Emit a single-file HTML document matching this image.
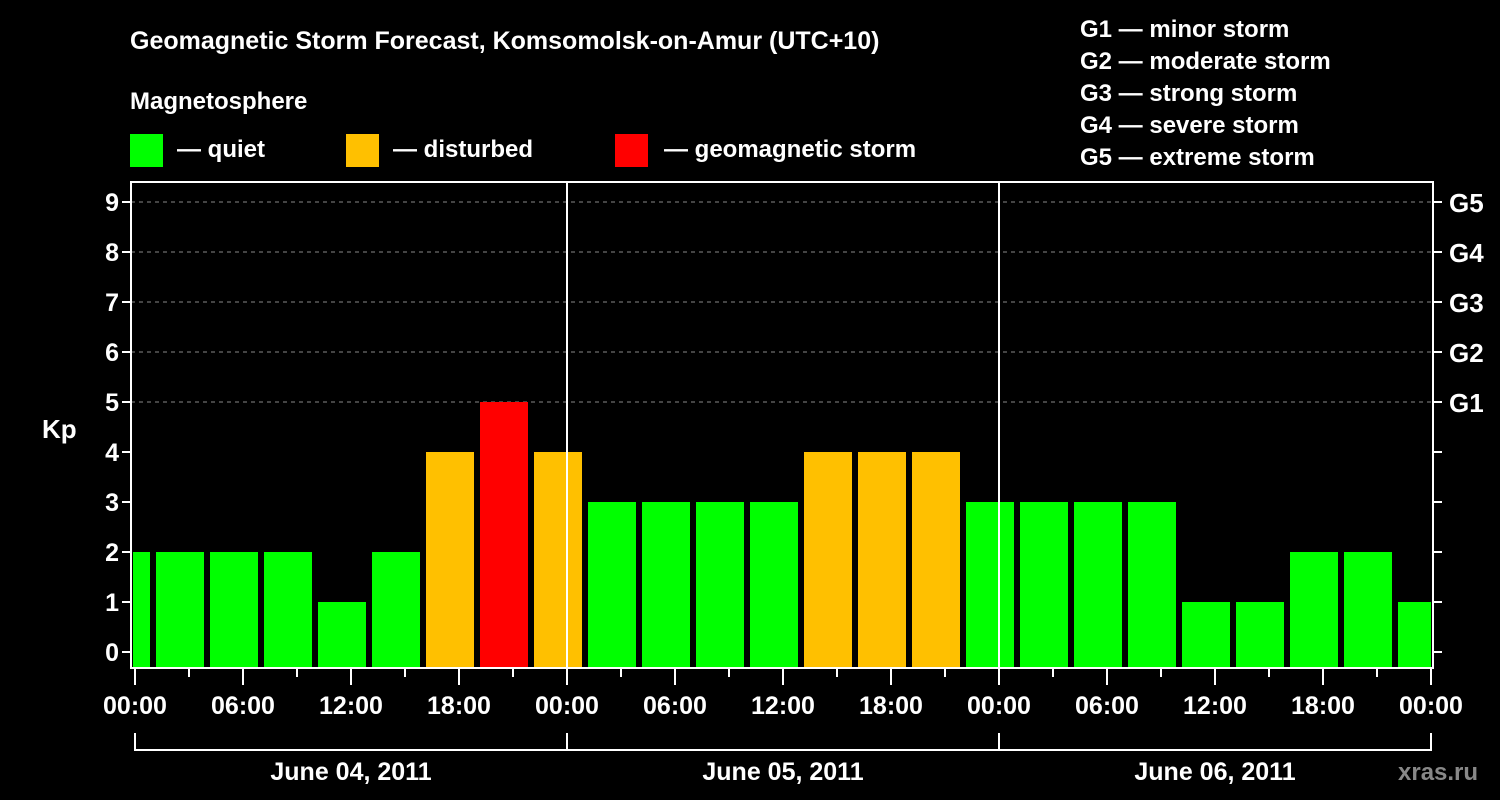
<!DOCTYPE html>
<html><head><meta charset="utf-8"><style>
html,body{margin:0;padding:0;background:#000;}
svg{display:block;font-family:"Liberation Sans",sans-serif;font-weight:bold;}
</style></head><body>
<svg id="chart" width="1500" height="800" viewBox="0 0 1500 800">
<rect width="1500" height="800" fill="#000"/>
<text x="130" y="49" fill="#fff" font-size="25">Geomagnetic Storm Forecast, Komsomolsk-on-Amur (UTC+10)</text>
<text x="130" y="109" fill="#fff" font-size="24">Magnetosphere</text>
<g><rect x="130" y="134" width="33" height="33" fill="#00ff00"/><text x="177" y="157" fill="#fff" font-size="24">— quiet</text></g>
<g><rect x="346" y="134" width="33" height="33" fill="#ffc000"/><text x="393" y="157" fill="#fff" font-size="24">— disturbed</text></g>
<g><rect x="615" y="134" width="33" height="33" fill="#ff0000"/><text x="664" y="157" fill="#fff" font-size="24">— geomagnetic storm</text></g>
<g fill="#fff" font-size="24">
<text x="1080" y="37">G1 — minor storm</text>
<text x="1080" y="69">G2 — moderate storm</text>
<text x="1080" y="101">G3 — strong storm</text>
<text x="1080" y="133">G4 — severe storm</text>
<text x="1080" y="165">G5 — extreme storm</text>
</g>
<text x="42" y="438" fill="#fff" font-size="26">Kp</text>
<text x="1398" y="780" fill="#888" font-size="24">xras.ru</text>
<g id="plot"></g>
</svg>
<script>
const kpValues=[2,2,2,2,1,2,4,5,4,3,3,3,3,4,4,4,3,3,3,3,1,1,2,2,1];
const yTicks=[0,1,2,3,4,5,6,7,8,9];
const gLabels=["G1","G2","G3","G4","G5"];
const hourLabels=["00:00","06:00","12:00","18:00"];
const dayLabels=["June 04, 2011","June 05, 2011","June 06, 2011"];
const NS="http://www.w3.org/2000/svg";
const L=131,R=1433,T=182,B=668,X0=135,PXH=18;
const xs=h=>X0+h*PXH;
const ys=v=>652-v*50;
const g=document.getElementById('plot');
function mk(t,a,p){const e=document.createElementNS(NS,t);for(const k in a)e.setAttribute(k,a[k]);(p||g).appendChild(e);return e;}
const clip=mk('clipPath',{id:'pc'});mk('rect',{x:L+2,y:T,width:R-L-4,height:B-T},clip);
// grid
for(let v=5;v<=9;v++){const ln=mk('line',{x1:L,x2:R,y1:ys(v),y2:ys(v),stroke:'#888','stroke-dasharray':'4,4','stroke-width':1});

}
// bars
const bg=mk('g',{'clip-path':'url(#pc)'});
kpValues.forEach((v,k)=>{const c=xs(3*k-0.5);
const col=v>=5?'#ff0000':(v>=4?'#ffc000':'#00ff00');
const r=mk('rect',{x:c-24,y:ys(v),width:48,height:B-ys(v),fill:col},bg);

});
// day separators
[1,2].forEach(d=>{const ln=mk('line',{x1:xs(24*d),x2:xs(24*d),y1:T,y2:B,stroke:'#fff','stroke-width':2});

});
// frame
const fr=mk('rect',{x:L,y:T,width:R-L,height:B-T,fill:'none',stroke:'#fff','stroke-width':2});


// y ticks
yTicks.forEach(v=>{mk('line',{x1:L-9,x2:L,y1:ys(v),y2:ys(v),stroke:'#fff','stroke-width':2});
mk('line',{x1:R,x2:R+9,y1:ys(v),y2:ys(v),stroke:'#fff','stroke-width':2});
const t=mk('text',{x:L-12,y:ys(v)+9,fill:'#fff','font-size':25,'text-anchor':'end'});t.textContent=v;

});
gLabels.forEach((s,i)=>{const t=mk('text',{x:R+16,y:ys(5+i)+10,fill:'#fff','font-size':26});t.textContent=s;

});
// x ticks
for(let h=0;h<=72;h+=3){const long=h%6===0;mk('line',{x1:xs(h),x2:xs(h),y1:B,y2:B+(long?17:9),stroke:'#fff','stroke-width':2});}
for(let h=0;h<=72;h+=6){const t=mk('text',{x:xs(h),y:714,fill:'#fff','font-size':25,'text-anchor':'middle'});t.textContent=hourLabels[(h/6)%4];

}
// day brackets
mk('line',{x1:xs(0),x2:xs(72),y1:750,y2:750,stroke:'#fff','stroke-width':2});
for(let d=0;d<=3;d++)mk('line',{x1:xs(24*d),x2:xs(24*d),y1:733,y2:751,stroke:'#fff','stroke-width':2});
dayLabels.forEach((s,d)=>{const t=mk('text',{x:xs(24*d+12),y:780,fill:'#fff','font-size':25,'text-anchor':'middle'});t.textContent=s;

});
</script>
</body></html>
